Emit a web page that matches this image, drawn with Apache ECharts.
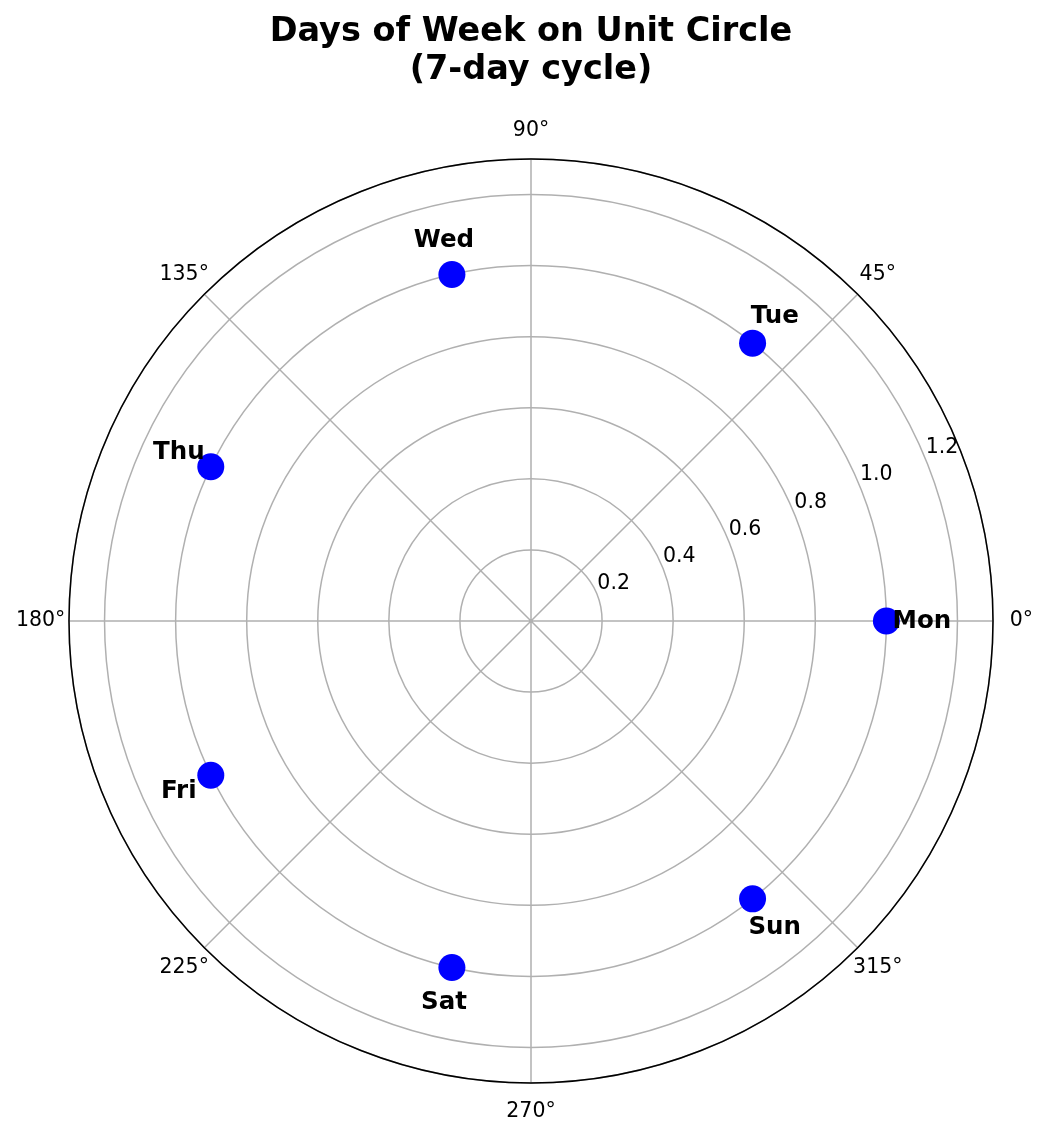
<!DOCTYPE html>
<html>
<head>
<meta charset="utf-8">
<script src="https://cdn.jsdelivr.net/npm/echarts@6/dist/echarts.min.js"></script>
<style>html,body{margin:0;padding:0;background:#fff}#c{width:1049px;height:1138px}</style>
</head>
<body>
<div id="c"></div>
<script>
const days = ['Mon', 'Tue', 'Wed', 'Thu', 'Fri', 'Sat', 'Sun'];
const dayAngles = [0, 51.43, 102.86, 154.29, 205.71, 257.14, 308.57];
const dayRadius = [1, 1, 1, 1, 1, 1, 1];
const labelRadius = [1.1, 1.1, 1.1, 1.1, 1.1, 1.1, 1.1];
const radialTicks = [0.2, 0.4, 0.6, 0.8, 1.0, 1.2];
const radialLabelAngle = 22.5;
const angleTicks = [0, 45, 90, 135, 180, 225, 270, 315];
const angleLabelRadius = 1.38;
const titleText = 'Days of Week on Unit Circle\n(7-day cycle)';

const chart = echarts.init(document.getElementById('c'), null, {renderer: 'canvas'});
const F = 'DejaVu Sans';
chart.setOption({
  backgroundColor: '#ffffff',
  animation: false,
  graphic: [{
    type: 'text', x: 531, y: 13, z: 10,
    style: {text: titleText, textAlign: 'center', textVerticalAlign: 'top',
            fontFamily: F, fontSize: 33.5, fontWeight: 'bold', fill: '#000', lineHeight: 38}
  }],
  polar: {center: ['531px', '621px'], radius: 462},
  angleAxis: {
    type: 'value', min: 0, max: 360, interval: 45, startAngle: 0, clockwise: false,
    axisLine: {show: true, lineStyle: {color: '#000', width: 1.5}},
    axisTick: {show: false},
    axisLabel: {show: false},
    splitLine: {show: true, lineStyle: {color: '#b0b0b0', width: 1.5}}
  },
  radiusAxis: {
    type: 'value', min: 0, max: 1.3, interval: 0.2,
    axisLine: {show: false}, axisTick: {show: false}, axisLabel: {show: false},
    splitLine: {show: true, lineStyle: {color: '#b0b0b0', width: 1.5}}
  },
  series: [
    {
      type: 'scatter', coordinateSystem: 'polar', symbol: 'circle', symbolSize: 27,
      itemStyle: {color: '#0000ff', opacity: 1},
      data: days.map((d, i) => [dayRadius[i], dayAngles[i]]),
      z: 3
    },
    {
      type: 'scatter', coordinateSystem: 'polar', symbolSize: 0, silent: true,
      itemStyle: {opacity: 1},
      data: days.map((d, i) => ({name: d, value: [labelRadius[i], dayAngles[i]]})),
      label: {show: true, position: 'inside', offset: [0, 1], formatter: p => p.name, color: '#000',
              fontFamily: F, fontSize: 24.5, fontWeight: 'bold'},
      z: 5
    },
    {
      type: 'scatter', coordinateSystem: 'polar', symbolSize: 0, silent: true,
      itemStyle: {opacity: 1},
      data: radialTicks.map(r => [r, radialLabelAngle]),
      label: {show: true, position: 'inside', offset: [17, -10],
              formatter: p => p.value[0].toFixed(1), color: '#000', fontFamily: F, fontSize: 20.5},
      z: 4
    },
    {
      type: 'scatter', coordinateSystem: 'polar', symbolSize: 0, silent: true, clip: false,
      itemStyle: {opacity: 1},
      data: angleTicks.map(a => [angleLabelRadius, a]),
      label: {show: true, position: 'inside',
              formatter: p => p.value[1] + '°', color: '#000', fontFamily: F, fontSize: 20.5},
      z: 4
    }
  ]
});
</script>
</body>
</html>
